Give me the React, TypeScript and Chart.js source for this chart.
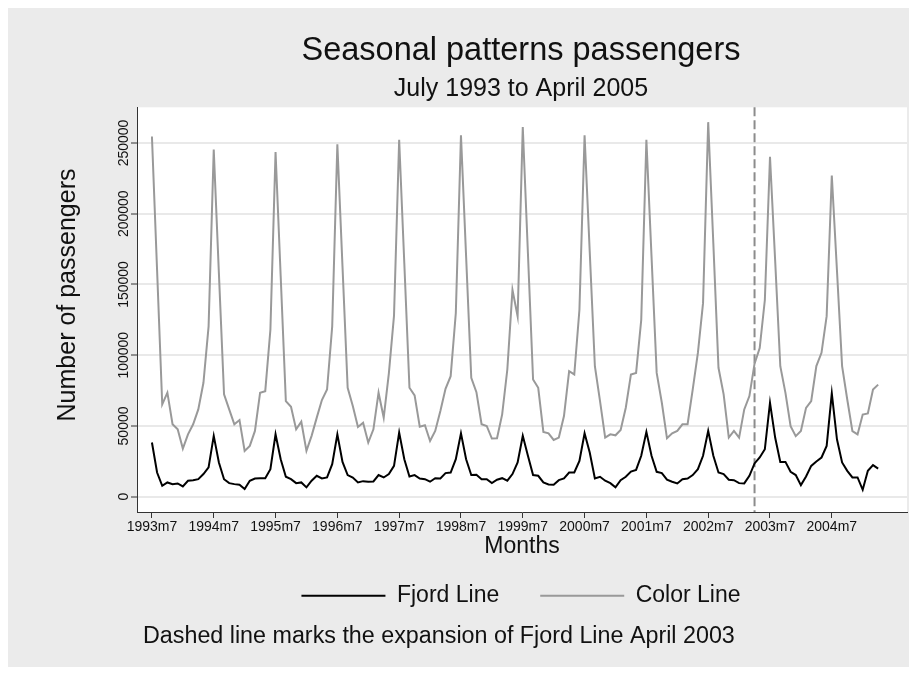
import React, { useEffect, useRef } from 'react';
import { Chart, registerables } from 'chart.js';

Chart.register(...registerables);

const FONT = '"Liberation Sans", Arial, Helvetica, sans-serif';

// x positions: months since 1993m7 (index 0) up to 2005m4 (index 141)
const xTickValues = [0, 12, 24, 36, 48, 60, 72, 84, 96, 108, 120, 132];
const xTickLabels = ['1993m7', '1994m7', '1995m7', '1996m7', '1997m7', '1998m7', '1999m7', '2000m7', '2001m7', '2002m7', '2003m7', '2004m7'];
const yTickValues = [0, 50000, 100000, 150000, 200000, 250000];
const expansionMonth = 117; // 2003m4

const seriesNames = ['Fjord Line', 'Color Line'];

const fjordLine = [
  38300, 17100, 7700, 10100, 8900, 9400, 7300, 11300, 11700, 12400, 16000, 20700,
  43000, 24200, 12400, 9600, 8900, 8500, 5400, 11300, 12900, 13100, 13100, 19500,
  44100, 26500, 14100, 12400, 9600, 10100, 6600, 11300, 14800, 12900, 13600, 23000,
  44100, 24600, 15300, 13600, 10100, 11000, 10600, 10800, 15300, 13600, 16000, 21800,
  45300, 26500, 14300, 15300, 12900, 12400, 10600, 13100, 12900, 16700, 17100, 26500,
  44800, 26500, 15300, 15500, 12400, 12400, 9600, 12000, 13100, 11300, 16000, 24200,
  43000, 28900, 15300, 14800, 10100, 8700, 8500, 11700, 12900, 17100, 17100, 25300,
  44800, 31200, 12900, 14100, 11300, 9600, 6600, 11700, 14100, 17800, 19000, 28900,
  45800, 28900, 17600, 16700, 12000, 10600, 9400, 12400, 12900, 15300, 19500, 28900,
  46500, 28900, 17100, 16000, 12000, 11700, 9600, 9400, 14800, 23500, 27700, 33600,
  66400, 41800, 24600, 24600, 17600, 15300, 8200, 14300, 21800, 24900, 27700, 35900,
  73000, 40600, 24200, 18300, 13600, 13600, 4900, 18300, 22300, 19900,
];

const colorLine = [
  254600, 160000, 65200, 73500, 51200, 47600, 34000, 44100, 51200, 61700, 80500, 120400,
  245300, 158000, 72300, 61700, 51200, 54200, 32400, 35900, 46500, 73500, 74600, 118000,
  243600, 155600, 67600, 63600, 47600, 53000, 32400, 43000, 55900, 68300, 75800, 120400,
  249000, 162600, 77000, 64100, 49300, 52300, 38300, 47600, 73500, 55900, 87200, 128000,
  252300, 165000, 77000, 71600, 49500, 50500, 39400, 46500, 60600, 76300, 85200, 129800,
  255400, 169700, 84000, 73900, 51200, 50000, 41100, 41300, 58200, 89900, 146200, 127400,
  261200, 172000, 82800, 77000, 45800, 44800, 40100, 41800, 57000, 88700, 86400, 132100,
  255400, 173200, 92200, 67600, 41800, 44100, 43400, 47200, 62900, 86400, 87500, 125000,
  252300, 169700, 87500, 66400, 41300, 44800, 46500, 51200, 51200, 75800, 101600, 136800,
  264700, 179000, 91100, 72300, 41800, 46500, 41800, 61700, 71100, 94000, 105100, 139000,
  240300, 167000, 92200, 73400, 49900, 42800, 46400, 62800, 67600, 92300, 101700, 127600,
  227000, 160000, 92300, 68700, 46400, 44000, 58100, 58800, 75700, 79200,
];

const titleText = 'Seasonal patterns passengers';
const subtitleText = 'July 1993 to April 2005';
const xTitle = 'Months';
const yTitle = 'Number of passengers';
const noteText = 'Dashed line marks the expansion of Fjord Line April 2003';

const stataPlugin = {
  id: 'stataDecor',
  beforeDraw(chart: any) {
    const { ctx, chartArea: a } = chart;
    ctx.save();
    ctx.fillStyle = '#ffffff';
    ctx.fillRect(a.left, a.top, a.right - a.left, a.bottom - a.top);
    ctx.restore();
  },
  beforeDatasetsDraw(chart: any) {
    const { ctx, chartArea: a } = chart;
    const x = chart.scales.x.getPixelForValue(expansionMonth);
    ctx.save();
    ctx.strokeStyle = '#8c8c8c';
    ctx.lineWidth = 2;
    ctx.setLineDash([9, 4]);
    ctx.beginPath();
    ctx.moveTo(x, a.top);
    ctx.lineTo(x, a.bottom);
    ctx.stroke();
    ctx.restore();
  },
  afterDraw(chart: any) {
    const { ctx } = chart;
    const ys = chart.scales.y;
    ctx.save();
    ctx.fillStyle = '#111111';
    ctx.textAlign = 'center';
    ctx.textBaseline = 'middle';
    ctx.font = `14px ${FONT}`;
    yTickValues.forEach((v) => {
      const py = ys.getPixelForValue(v);
      ctx.save();
      ctx.translate(116, py);
      ctx.rotate(-Math.PI / 2);
      ctx.fillText(String(v), 0, 0);
      ctx.restore();
    });
    ctx.save();
    ctx.font = `25px ${FONT}`;
    ctx.translate(60, 287);
    ctx.rotate(-Math.PI / 2);
    ctx.fillText(yTitle, 0, 0);
    ctx.restore();
    ctx.textAlign = 'left';
    ctx.font = `23.3px ${FONT}`;
    ctx.fillText(noteText, 135, 629);
    ctx.restore();
  },
};

export default function App() {
  const canvasRef = useRef<HTMLCanvasElement | null>(null);

  useEffect(() => {
    const canvas = canvasRef.current;
    if (!canvas) return;
    const chart = new Chart(canvas, {
      type: 'line',
      data: {
        datasets: [
          {
            label: seriesNames[0],
            data: fjordLine.map((v, i) => ({ x: i, y: v })),
            borderColor: '#000000',
            backgroundColor: '#000000',
            borderWidth: 2,
            pointRadius: 0,
            tension: 0,
          },
          {
            label: seriesNames[1],
            data: colorLine.map((v, i) => ({ x: i, y: v })),
            borderColor: '#999999',
            backgroundColor: '#999999',
            borderWidth: 2,
            pointRadius: 0,
            tension: 0,
          },
        ],
      },
      options: {
        animation: false,
        responsive: false,
        devicePixelRatio: 1,
        events: [],
        layout: { padding: { left: 127, right: 2, top: 0, bottom: 49.7 } },
        plugins: {
          title: {
            display: true,
            text: titleText,
            color: '#111111',
            font: { family: FONT, size: 32.5, weight: 'normal' },
            padding: { top: 24, bottom: 0 },
          },
          subtitle: {
            display: true,
            text: subtitleText,
            color: '#111111',
            font: { family: FONT, size: 25, weight: 'normal' },
            padding: { top: 3, bottom: 3.3 },
          },
          legend: {
            display: true,
            position: 'bottom',
            labels: {
              usePointStyle: true,
              pointStyle: 'line',
              pointStyleWidth: 84,
              padding: 41,
              color: '#111111',
              font: { family: FONT, size: 23 },
            },
          },
          tooltip: { enabled: false },
        },
        scales: {
          x: {
            type: 'linear',
            min: -2.9,
            max: 146.6,
            afterBuildTicks: (s: any) => {
              s.ticks = xTickValues.map((v) => ({ value: v }));
            },
            afterFit: (s: any) => {
              s.height = 31.3;
            },
            ticks: {
              autoSkip: false,
              maxRotation: 0,
              padding: 1,
              color: '#111111',
              font: { family: FONT, size: 14 },
              callback: (v: any) => {
                const k = xTickValues.indexOf(Number(v));
                return k >= 0 ? xTickLabels[k] : '';
              },
            },
            grid: {
              drawOnChartArea: false,
              drawTicks: true,
              tickLength: 6,
              tickColor: '#333333',
              tickWidth: 1,
            },
            border: { color: '#333333', width: 1 },
            title: {
              display: true,
              text: xTitle,
              color: '#111111',
              font: { family: FONT, size: 23 },
              padding: { top: 0, bottom: -17.3 },
            },
          },
          y: {
            type: 'linear',
            min: -10800,
            max: 275200,
            afterBuildTicks: (s: any) => {
              s.ticks = yTickValues.map((v) => ({ value: v }));
            },
            afterFit: (s: any) => {
              s.width = 2;
            },
            ticks: { display: false },
            grid: {
              color: '#e9e9e9',
              lineWidth: 2,
              drawTicks: true,
              tickLength: 6,
              tickColor: '#333333',
              tickWidth: 1,
            },
            border: { color: '#333333', width: 1 },
          },
        },
      },
      plugins: [stataPlugin],
    } as any);
    return () => chart.destroy();
  }, []);

  return (
    <div style={{ width: 901, height: 659, background: '#ebebeb' }}>
      <canvas ref={canvasRef} width={901} height={659} style={{ display: 'block' }} />
    </div>
  );
}
